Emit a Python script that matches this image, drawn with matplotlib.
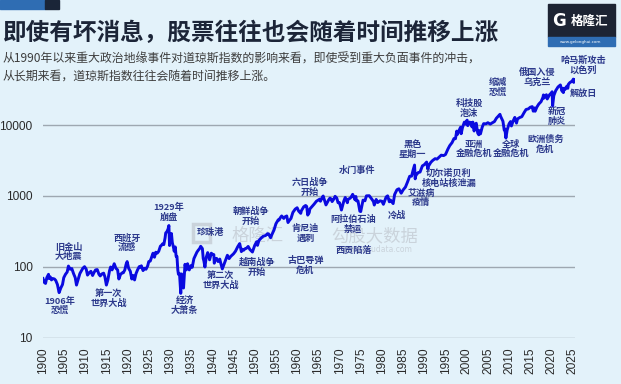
import matplotlib
matplotlib.use('Agg')
import matplotlib.pyplot as plt
from matplotlib.patches import Rectangle

# Dow Jones index, decimal year -> level
years = [
    1900.0, 1900.3, 1900.6, 1900.9, 1901.3, 1901.4, 1901.7, 1902.0, 1902.3, 1902.7,
    1903.0, 1903.4, 1903.8, 1904.2, 1904.6, 1904.9, 1905.3, 1905.7, 1906.0, 1906.4,
    1906.8, 1907.2, 1907.6, 1907.9, 1908.3, 1908.7, 1909.0, 1909.4, 1909.8,
    1910.2, 1910.5, 1910.9, 1911.3, 1911.7, 1912.0, 1912.4, 1912.8, 1913.2, 1913.5,
    1913.9, 1914.3, 1914.6, 1914.95, 1915.3, 1915.7, 1915.95, 1916.3, 1916.8, 1917.2,
    1917.6, 1917.9, 1918.3, 1918.7, 1918.95, 1919.3, 1919.6, 1919.85,
    1920.2, 1920.6, 1920.95, 1921.3, 1921.6, 1921.95, 1922.3, 1922.7, 1922.95, 1923.2,
    1923.6, 1923.95, 1924.3, 1924.7, 1924.95, 1925.3, 1925.7, 1925.95, 1926.2, 1926.3,
    1926.6, 1926.95, 1927.3, 1927.7, 1927.95, 1928.2, 1928.5, 1928.8, 1928.95, 1929.2,
    1929.5, 1929.7, 1929.85, 1929.95,
    1930.3, 1930.5, 1930.8, 1930.95, 1931.2, 1931.4, 1931.6, 1931.8, 1931.95, 1932.2,
    1932.5, 1932.7, 1932.95, 1933.15, 1933.5, 1933.8, 1933.95, 1934.1, 1934.5, 1934.95,
    1935.2, 1935.6, 1935.95, 1936.3, 1936.6, 1936.95, 1937.2, 1937.6, 1937.8, 1937.95,
    1938.2, 1938.5, 1938.85, 1939.3, 1939.7, 1939.95,
    1940.3, 1940.4, 1940.7, 1940.95, 1941.3, 1941.7, 1941.95, 1942.3, 1942.7, 1942.95,
    1943.5, 1943.9, 1944.3, 1944.95, 1945.4, 1945.95, 1946.4, 1946.8, 1946.95, 1947.3,
    1947.7, 1947.95, 1948.4, 1948.8, 1949.4, 1949.95,
    1950.4, 1950.6, 1950.95, 1951.5, 1951.95, 1952.5, 1952.95, 1953.2, 1953.7, 1953.95,
    1954.5, 1954.95, 1955.5, 1955.7, 1955.95, 1956.3, 1956.8, 1956.95, 1957.5, 1957.8,
    1957.95, 1958.5, 1958.95, 1959.5, 1959.95,
    1960.3, 1960.8, 1960.95, 1961.5, 1961.95, 1962.2, 1962.45, 1962.8, 1962.95, 1963.5,
    1963.95, 1964.5, 1964.95, 1965.3, 1965.45, 1965.95, 1966.1, 1966.4, 1966.75, 1966.95,
    1967.4, 1967.7, 1967.95, 1968.2, 1968.6, 1968.9, 1969.3, 1969.6, 1969.95,
    1970.4, 1970.95, 1971.3, 1971.8, 1971.95, 1972.5, 1972.95, 1973.05, 1973.6, 1973.8,
    1973.95, 1974.3, 1974.75, 1974.95, 1975.5, 1975.95, 1976.3, 1976.95, 1977.5, 1977.95,
    1978.15, 1978.6, 1978.95, 1979.5, 1979.95,
    1980.3, 1980.95, 1981.3, 1981.7, 1981.95, 1982.6, 1982.95, 1983.5, 1983.95, 1984.5,
    1984.95, 1985.5, 1985.95, 1986.5, 1986.95, 1987.3, 1987.65, 1987.8, 1987.95, 1988.5,
    1988.95, 1989.5, 1989.95,
    1990.5, 1990.8, 1990.95, 1991.5, 1991.95, 1992.5, 1992.95, 1993.5, 1993.95, 1994.5,
    1994.95, 1995.5, 1995.95, 1996.5, 1996.95, 1997.3, 1997.6, 1997.8, 1997.95, 1998.5,
    1998.65, 1998.95, 1999.4, 1999.7, 1999.95,
    2000.05, 2000.2, 2000.6, 2000.95, 2001.2, 2001.4, 2001.7, 2001.95, 2002.2, 2002.55,
    2002.8, 2002.95, 2003.2, 2003.6, 2003.95, 2004.5, 2004.95, 2005.5, 2005.95, 2006.5,
    2006.95, 2007.5, 2007.8, 2007.95, 2008.5, 2008.8, 2008.95, 2009.2, 2009.5, 2009.95,
    2010.3, 2010.5, 2010.95, 2011.3, 2011.7, 2011.95, 2012.5, 2012.95, 2013.5, 2013.95,
    2014.5, 2014.95, 2015.4, 2015.65, 2015.95, 2016.1, 2016.5, 2016.95, 2017.5, 2017.95,
    2018.05, 2018.2, 2018.75, 2018.95, 2019.5, 2019.95,
    2020.1, 2020.22, 2020.5, 2020.95, 2021.5, 2021.95, 2022.05, 2022.45, 2022.6, 2022.75,
    2022.95, 2023.2, 2023.6, 2023.8, 2023.95, 2024.3, 2024.6, 2024.95, 2025.1, 2025.2,
    2025.35,
]
dow = [
    68, 60, 58, 70, 78, 68, 72, 65, 68, 67,
    64, 56, 43, 50, 56, 70, 78, 84, 102, 92,
    94, 80, 70, 55, 66, 80, 86, 95, 100,
    92, 76, 82, 86, 75, 82, 90, 91, 78, 74,
    79, 81, 72, 55, 65, 88, 99, 90, 110, 95,
    90, 67, 78, 82, 82, 90, 108, 118,
    95, 86, 67, 75, 65, 80, 90, 100, 98, 103,
    88, 95, 92, 103, 118, 120, 140, 155, 144, 136,
    160, 155, 165, 195, 200, 210, 205, 255, 300, 310,
    340, 381, 199, 248,
    294, 220, 185, 165, 190, 140, 140, 90, 78, 80,
    42, 79, 60, 50, 108, 90, 100, 110, 90, 104,
    98, 130, 144, 160, 170, 180, 194, 180, 130, 121,
    99, 135, 158, 125, 155, 150,
    148, 112, 130, 131, 118, 128, 111, 93, 108, 119,
    145, 130, 140, 152, 165, 192, 212, 163, 177, 170,
    180, 181, 193, 175, 161, 200,
    225, 200, 235, 255, 269, 275, 292, 290, 256, 280,
    330, 404, 460, 455, 488, 520, 480, 500, 520, 420,
    436, 480, 584, 650, 679,
    610, 566, 616, 700, 731, 710, 535, 580, 652, 710,
    763, 840, 874, 900, 840, 969, 995, 870, 744, 785,
    880, 930, 905, 830, 900, 985, 930, 800, 800,
    631, 839, 950, 800, 890, 930, 1020, 1051, 880, 980,
    850, 850, 607, 600, 870, 852, 1000, 1005, 910, 831,
    742, 890, 805, 850, 839,
    759, 964, 1000, 824, 875, 777, 1046, 1220, 1259, 1090,
    1212, 1330, 1547, 1890, 1896, 2300, 2722, 1738, 1939, 2130,
    2169, 2650, 2753,
    2999, 2365, 2634, 2980, 3169, 3350, 3301, 3550, 3754, 3700,
    3834, 4550, 5117, 5650, 6448, 6400, 8200, 7400, 7908, 9300,
    7540, 9181, 11000, 10300, 11497,
    11720, 9800, 11000, 10787, 9400, 11000, 8235, 10021, 10600, 7700,
    7286, 8341, 7500, 9300, 10453, 10400, 10783, 10300, 10717, 11200,
    12463, 13500, 14165, 13264, 11300, 8500, 8776, 6547, 8500, 10428,
    11200, 9700, 11577, 12800, 10650, 12217, 12800, 13104, 15000, 16576,
    16900, 17823, 18200, 15700, 17425, 15660, 17900, 19762, 21400, 24719,
    26600, 24000, 26800, 23327, 26800, 28538,
    29500, 18600, 26000, 30606, 34500, 36338, 36800, 30000, 33000, 28700,
    33147, 32000, 35500, 33000, 37690, 39800, 40800, 42544, 44500, 40000,
    43500,
]

yticks = [10, 100, 1000, 10000]
xticks = list(range(1900, 2030, 5))

# event labels: text, year, level
events = [
    ('旧金山\n大地震', 1906.1, 161), ('1906年\n恐慌', 1904.0, 27.9),
    ('西班牙\n流感', 1919.8, 219), ('第一次\n世界大战', 1915.5, 36.1),
    ('1929年\n崩盘', 1929.7, 592), ('经济\n大萧条', 1933.4, 27.9),
    ('珍珠港', 1939.5, 304), ('朝鲜战争\n开始', 1949.0, 520),
    ('第二次\n世界大战', 1941.9, 64.8), ('越南战争\n开始', 1950.4, 97.3),
    ('肯尼迪\n遇刺', 1961.9, 298), ('古巴导弹\n危机', 1961.9, 104),
    ('六日战争\n开始', 1962.9, 1332), ('阿拉伯石油\n禁运', 1973.2, 400),
    ('西贡陷落', 1973.2, 170), ('水门事件', 1974.2, 2316),
    ('冷战', 1983.6, 536), ('艾滋病\n疫情', 1989.2, 932),
    ('切尔诺贝利\n核电站核泄漏', 1995.8, 1785), ('黑色\n星期一', 1987.1, 4508),
    ('亚洲\n金融危机', 2001.7, 4583), ('科技股\n泡沫', 2000.5, 17100),
    ('全球\n金融危机', 2010.5, 4583), ('欧洲债务\n危机', 2018.5, 5300),
    ('缩减\n恐慌', 2007.3, 33800), ('俄国入侵\n乌克兰', 2016.5, 47600),
    ('新冠\n肺炎', 2021.2, 13180), ('解放日', 2027.4, 28300),
    ('哈马斯攻击\n以色列', 2027.4, 69200),
]

title = '即使有坏消息，股票往往也会随着时间推移上涨'
subtitle = ('从1990年以来重大政治地缘事件对道琼斯指数的影响来看，即使受到重大负面事件的冲击，\n'
            '从长期来看，道琼斯指数往往会随着时间推移上涨。')

cjk = ['Noto Sans CJK SC', 'DejaVu Sans']
bg = '#e3f2fa'
W, H = 621, 384


def px(x, y):
    return x / W, 1 - y / H


fig = plt.figure(figsize=(6.21, 3.84), dpi=100, facecolor=bg)
ax = fig.add_axes([43 / W, (H - 337.5) / H, 532 / W, (337.5 - 54.2) / H])
ax.set_facecolor(bg)

ax.plot(years, dow, color='#0a0ae0', lw=2.1, solid_joinstyle='round', zorder=3)

ax.set_yscale('log')
ax.set_ylim(10, 1e5)
ax.set_xlim(1900, 2025.5)
ax.set_yticks(yticks)
ax.set_yticklabels([str(v) for v in yticks])
ax.minorticks_off()
ax.set_xticks(xticks)
ax.set_xticklabels([str(v) for v in xticks], rotation=90)
ax.grid(axis='y', color='#9ea8b1', lw=1)
ax.grid(axis='x', visible=False)
for s in ax.spines.values():
    s.set_visible(False)
ax.tick_params(length=0, labelsize=8.6, labelcolor='#2a2a2a')
ax.tick_params(axis='y', pad=7.5)
ax.tick_params(axis='x', pad=7)
for lab in ax.get_xticklabels() + ax.get_yticklabels():
    lab.set_family('Liberation Sans')

for text, yr, val in events:
    ax.text(yr, val, text, ha='center', va='center', fontsize=6.6, fontweight='bold',
            color='#2d3a8c', family=cjk, linespacing=1.1, clip_on=False, zorder=4)

# faint watermarks
wm = '#cad3db'
ax.add_patch(Rectangle(px(193, 242), 17 / W, 18 / H, transform=fig.transFigure,
                       fill=False, ec=wm, lw=2.5, zorder=1))
ax.text(*px(258, 236), '格隆汇', transform=fig.transFigure, fontsize=12.5,
        color=wm, family=cjk, ha='center', va='center', zorder=1)
ax.text(*px(375, 236), '勾股大数据', transform=fig.transFigure, fontsize=12.5,
        color=wm, family=cjk, ha='center', va='center', zorder=1)
ax.text(*px(375, 249), 'www.gugudata.com', transform=fig.transFigure, fontsize=5.5,
        color=wm, ha='center', va='center', zorder=1)

# header
fig.patches.append(Rectangle(px(0, 9), 45 / W, 9 / H, transform=fig.transFigure,
                             color='#2f6db3', zorder=0))
fig.patches.append(Rectangle(px(45, 9), 14 / W, 9 / H, transform=fig.transFigure,
                             color='#1a2538', zorder=0))
fig.text(*px(3, 33), title, fontsize=17, fontweight='bold', color='#1c2538',
         family=cjk, ha='left', va='center')
fig.text(*px(3, 67.5), subtitle, fontsize=8.6, color='#3d3d3d', family=cjk,
         ha='left', va='center', linespacing=1.45)

# logo box
fig.patches.append(Rectangle(px(548, 37), 67 / W, 33 / H, transform=fig.transFigure,
                             color='#1d2433', zorder=0))
fig.patches.append(Rectangle(px(548, 46), 67 / W, 9 / H, transform=fig.transFigure,
                             color='#2f6db3', zorder=0))
fig.text(*px(559, 21), 'G', fontsize=12, fontweight='bold', color='white',
         ha='center', va='center')
fig.text(*px(590, 21), '格隆汇', fontsize=9, fontweight='bold', color='white',
         family=cjk, ha='center', va='center')
fig.text(*px(581, 41.5), 'www.gelonghui.com', fontsize=3, color='white',
         ha='center', va='center')

fig.savefig('out.png', dpi=100, facecolor=bg)
